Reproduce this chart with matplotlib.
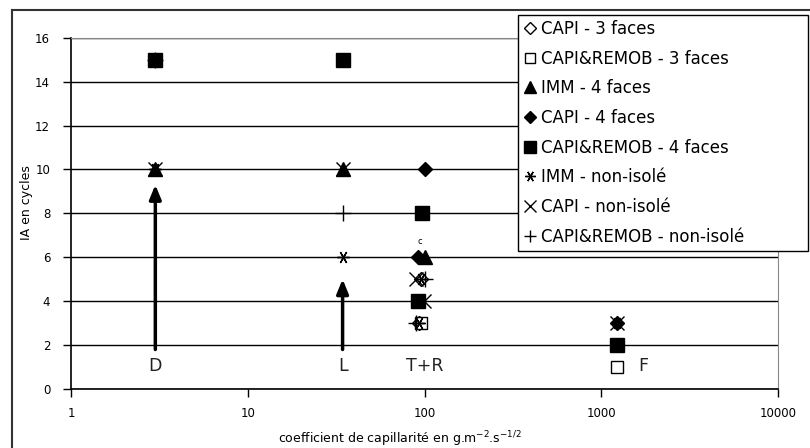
import matplotlib.pyplot as plt
from matplotlib.lines import Line2D
from matplotlib.ticker import FixedLocator, FixedFormatter, NullLocator

plt.rcParams['font.family'] = ['DejaVu Sans']

# points (x = capillarity coefficient, y = IA in cycles)
capi3_x = [96, 93]
capi3_y = [5, 3]
capiremob3_x = [95, 1230]
capiremob3_y = [3, 1]
imm4_x = [3, 34.4, 100]
imm4_y = [10, 10, 6]
capi4_x = [100, 92, 1230]
capi4_y = [10, 6, 3]
capiremob4_x = [3, 34.4, 97, 92, 1230]
capiremob4_y = [15, 15, 8, 4, 2]
immni_x = [3, 3, 34.4, 96, 93, 1230]
immni_y = [15, 10, 6, 5, 3, 3]
capini_x = [3, 3, 34.4, 97, 90, 99, 1230]
capini_y = [15, 10, 10, 8, 5, 4, 3]
capiremobni_x = [3, 34.4, 101, 90]
capiremobni_y = [15, 8, 5, 3]

labels = ["CAPI - 3 faces", "CAPI&REMOB - 3 faces", "IMM - 4 faces", "CAPI - 4 faces",
          "CAPI&REMOB - 4 faces", "IMM - non-isolé", "CAPI - non-isolé",
          "CAPI&REMOB - non-isolé"]

zones = ["D", "L", "T+R", "F"]
zone_x = [3, 34.4, 100, 1230]
zone_y = [1.05, 1.05, 1.05, 1.05]

arrow_x = [3, 34.4]
arrow_start = [1.8, 1.8]
arrow_end = [9.3, 5.0]

xticks = [1, 10, 100, 1000, 10000]
yticks = [0, 2, 4, 6, 8, 10, 12, 14, 16]

star = (6, 2, 90)
styles = [
    dict(marker="D", mfc="white", mec="black", ms=7, mew=1),
    dict(marker="s", mfc="white", mec="black", ms=8, mew=1),
    dict(marker="^", mfc="black", mec="black", ms=10),
    dict(marker="D", mfc="black", mec="black", ms=7.5),
    dict(marker="s", mfc="black", mec="black", ms=9.5),
    dict(marker=star, mfc="black", mec="black", ms=9, mew=1),
    dict(marker="x", mfc="black", mec="black", ms=10.5, mew=1),
    dict(marker="+", mfc="black", mec="black", ms=11, mew=1),
]
series = [(capi3_x, capi3_y), (capiremob3_x, capiremob3_y), (imm4_x, imm4_y),
          (capi4_x, capi4_y), (capiremob4_x, capiremob4_y), (immni_x, immni_y),
          (capini_x, capini_y), (capiremobni_x, capiremobni_y)]

fig = plt.figure(figsize=(8.1, 4.48), dpi=100)
ax = fig.add_axes([71 / 810, 1 - 389 / 448, (778 - 71) / 810, (389 - 37.7) / 448])

for (xs, ys), st in zip(series, styles):
    ax.plot(xs, ys, linestyle="none", zorder=4, **st)

for x, y0, y1 in zip(arrow_x, arrow_start, arrow_end):
    ax.annotate("", xy=(x, y1), xytext=(x, y0),
                arrowprops=dict(arrowstyle="-|>,head_length=0.85,head_width=0.35",
                                lw=2.5, color="black", mutation_scale=10,
                                shrinkA=0, shrinkB=0), zorder=3)

for name, x, y in zip(zones, zone_x, zone_y):
    if name == "F":
        ax.annotate(name, (x, y), xytext=(15, 0), textcoords="offset points",
                    ha="left", va="center", fontsize=12.5, color="#222222")
    else:
        ax.text(x, y, name, ha="center", va="center", fontsize=12.5, color="#222222")

ax.annotate("c", (94, 6), xytext=(0, 11), textcoords="offset points",
            ha="center", va="center", fontsize=6)

ax.set_xscale("log")
ax.set_xlim(1, 10000)
ax.set_ylim(0, 16)
ax.xaxis.set_major_locator(FixedLocator(xticks))
ax.xaxis.set_major_formatter(FixedFormatter([str(t) for t in xticks]))
ax.xaxis.set_minor_locator(NullLocator())
ax.set_yticks(yticks)
ax.tick_params(direction="out", length=6, width=1, labelsize=8.5)
ax.tick_params(axis="y", pad=9)
ax.tick_params(axis="x", pad=7)
ax.yaxis.grid(True, color="black", lw=1)
ax.set_axisbelow(True)
ax.spines["top"].set_color("#888888")
ax.spines["right"].set_color("#888888")
ax.spines["left"].set_linewidth(1.2)
ax.spines["bottom"].set_linewidth(1.2)

ax.set_ylabel("IA en cycles", fontsize=9)
ax.yaxis.set_label_coords((33 - 71) / 707, 0.53)
ax.set_xlabel("coefficient de capillarité en g.m$^{-2}$.s$^{-1/2}$", fontsize=9)
ax.xaxis.set_label_coords((400 - 71) / 707, -0.115)

handles = [Line2D([], [], linestyle="none", **dict(st, ms=st["ms"] * 0.85)) for st in styles]
leg = fig.legend(handles, labels, loc="upper left",
                 bbox_to_anchor=(518 / 810, 1 - 15 / 448, 290 / 810, 0), mode="expand",
                 fontsize=12, frameon=True, fancybox=False, edgecolor="black",
                 framealpha=1, borderpad=0.3, labelspacing=0.7, handlelength=0.8,
                 handletextpad=0.3, borderaxespad=0)
leg.get_frame().set_linewidth(1)

# outer frame, only its top and left edges are visible in the picture
fig.add_artist(Line2D([12 / 810, 12 / 810], [0, 1 - 10 / 448], color="#333333", lw=1.5,
                      transform=fig.transFigure))
fig.add_artist(Line2D([12 / 810, 1], [1 - 10 / 448, 1 - 10 / 448], color="#333333", lw=1.5,
                      transform=fig.transFigure))

fig.savefig("out.png", dpi=100)
